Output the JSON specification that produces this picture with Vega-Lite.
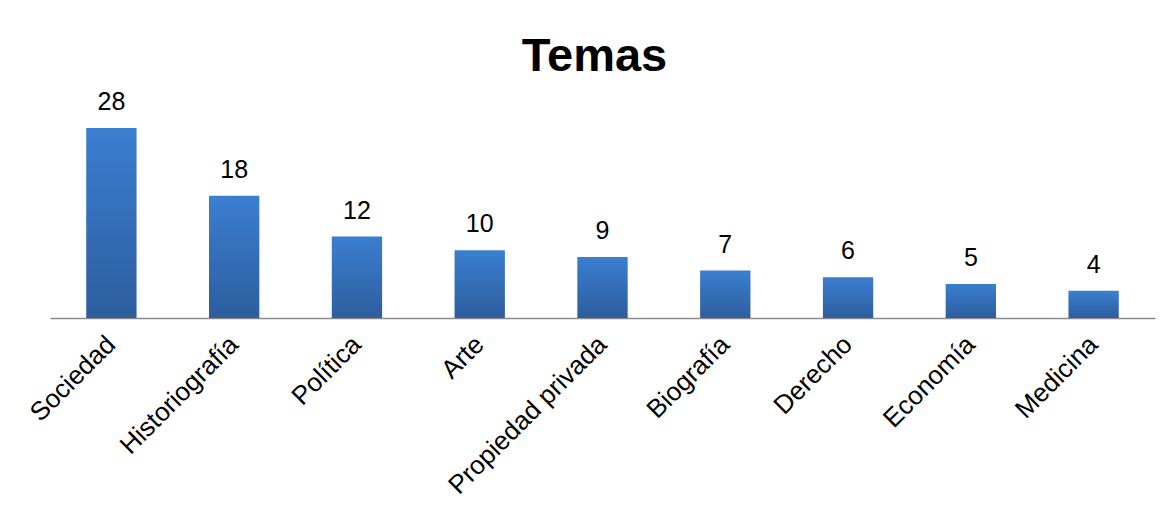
{
  "$schema": "https://vega.github.io/schema/vega-lite/v6.json",
  "autosize": {"type": "none"},
  "width": 1105,
  "height": 190,
  "padding": {"left": 50, "top": 128, "right": 19, "bottom": 206},
  "background": "white",
  "config": {"view": {"stroke": null}, "font": "Liberation Sans"},
  "title": {
    "text": "Temas",
    "font": "Liberation Sans",
    "fontSize": 47,
    "fontWeight": "bold",
    "color": "black",
    "anchor": "middle",
    "baseline": "alphabetic",
    "offset": 10,
    "dy": 38,
    "dx": -8
  },
  "data": {
    "values": [
      {"tema": "Sociedad", "n": 28},
      {"tema": "Historiografía", "n": 18},
      {"tema": "Política", "n": 12},
      {"tema": "Arte", "n": 10},
      {"tema": "Propiedad privada", "n": 9},
      {"tema": "Biografía", "n": 7},
      {"tema": "Derecho", "n": 6},
      {"tema": "Economía", "n": 5},
      {"tema": "Medicina", "n": 4}
    ]
  },
  "encoding": {
    "x": {
      "field": "tema",
      "type": "nominal",
      "sort": null,
      "scale": {"paddingInner": 0.59, "paddingOuter": 0.295},
      "axis": {
        "title": null,
        "labelAngle": -45,
        "labelAlign": "right",
        "labelBaseline": "middle",
        "labelFontSize": 26,
        "labelColor": "black",
        "labelFont": "Liberation Sans",
        "labelPadding": 22,
        "labelLimit": 400,
        "ticks": false,
        "domainColor": "#8c8c8c",
        "domainWidth": 1.5,
        "labelOverlap": false
      }
    },
    "y": {
      "field": "n",
      "type": "quantitative",
      "scale": {"domain": [0, 28]},
      "axis": null
    }
  },
  "layer": [
    {
      "mark": {
        "type": "bar",
        "color": {
          "gradient": "linear",
          "x1": 0, "y1": 0, "x2": 0, "y2": 1,
          "stops": [
            {"offset": 0, "color": "#3b7ed0"},
            {"offset": 1, "color": "#2d5e9e"}
          ]
        }
      }
    },
    {
      "mark": {
        "type": "text",
        "baseline": "alphabetic",
        "dy": -18,
        "fontSize": 25,
        "color": "black",
        "font": "Liberation Sans"
      },
      "encoding": {"text": {"field": "n", "type": "quantitative"}}
    }
  ]
}
